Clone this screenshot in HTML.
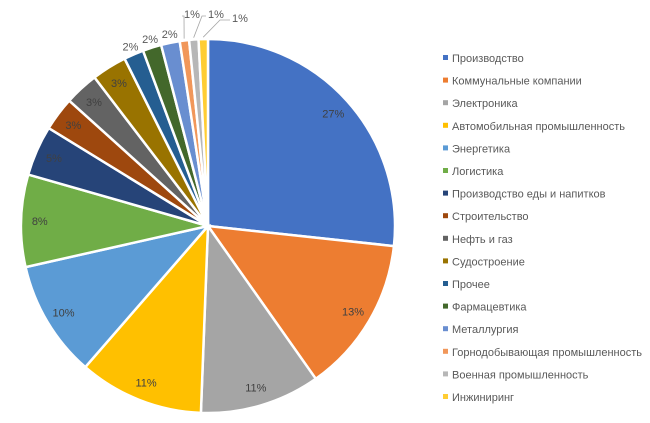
<!DOCTYPE html>
<html><head><meta charset="utf-8">
<style>
body{margin:0;background:#fff;width:650px;height:418px;overflow:hidden;font-family:"Liberation Sans",sans-serif;}
svg text{font-family:"Liberation Sans",sans-serif;}
</style></head>
<body>
<svg id="chart" width="650" height="418" xmlns="http://www.w3.org/2000/svg"></svg>
<script>
const categories=["Производство","Коммунальные компании","Электроника","Автомобильная промышленность","Энергетика","Логистика","Производство еды и напитков","Строительство","Нефть и газ","Судостроение","Прочее","Фармацевтика","Металлургия","Горнодобывающая промышленность","Военная промышленность","Инжиниринг"];
const values=[26.5,13.4,10.3,10.7,10,7.9,4.3,2.9,2.9,3,1.7,1.6,1.6,0.8,0.8,0.8];
const valueLabels=["27%","13%","11%","11%","10%","8%","5%","3%","3%","3%","2%","2%","2%","1%","1%","1%"];
const colors=["#4472C4","#ED7D31","#A5A5A5","#FFC000","#5B9BD5","#70AD47","#264478","#9E480E","#636363","#997300","#255E91","#43682B","#698ED0","#F1975A","#B7B7B7","#FFCD33"];
const NS="http://www.w3.org/2000/svg";
const svg=document.getElementById('chart');
const cx=208,cy=226,R=187;
const total=values.reduce((a,b)=>a+b,0);
function pt(a,r){return [cx+r*Math.sin(a),cy-r*Math.cos(a)];}
let acc=0;
values.forEach((v,i)=>{
  const a0=acc/total*2*Math.PI; acc+=v; const a1=acc/total*2*Math.PI;
  const p0=pt(a0,R),p1=pt(a1,R);
  const large=(a1-a0)>Math.PI?1:0;
  const path=document.createElementNS(NS,'path');
  path.setAttribute('d',`M${cx},${cy} L${p0[0]},${p0[1]} A${R},${R} 0 ${large} 1 ${p1[0]},${p1[1]} Z`);
  path.setAttribute('fill',colors[i]);path.setAttribute('stroke','#fff');path.setAttribute('stroke-width','2.5');
  
  
  svg.appendChild(path);
  const am=(a0+a1)/2;
  const t=document.createElementNS(NS,'text');
  let lp;
  if(i<10){lp=pt(am,R*0.9);}
  else if(i<13){lp=pt(am,R*1.07);lp=[lp[0]+2,lp[1]+4];}
  else{
    const k=i-13;
    lp=[186+k*24,14+(k===2?4:0)];
    const e=pt(am,R*1.01);
    const ln=document.createElementNS(NS,'polyline');
    ln.setAttribute('points',`${e[0]},${e[1]} ${lp[0]+(k===0?-2:k===1?-8:-14)},${lp[1]+2} ${lp[0]-4},${lp[1]+2}`);
    ln.setAttribute('fill','none');ln.setAttribute('stroke','#A6A6A6');ln.setAttribute('stroke-width','0.8');
    
    
    svg.appendChild(ln);
    lp=[lp[0]+6,lp[1]];
  }
  t.setAttribute('x',lp[0]);t.setAttribute('y',lp[1]+4);t.setAttribute('text-anchor','middle');
  t.setAttribute('font-size','11');t.setAttribute('fill',i<10?'#404040':'#595959');
  t.textContent=valueLabels[i];
  
  
  svg.appendChild(t);
});
categories.forEach((c,i)=>{
  const y=58+i*22.6;
  const r=document.createElementNS(NS,'rect');
  r.setAttribute('x',443);r.setAttribute('y',y-3);r.setAttribute('width',5);r.setAttribute('height',5);r.setAttribute('fill',colors[i]);
  
  
  svg.appendChild(r);
  const t=document.createElementNS(NS,'text');
  t.setAttribute('x',452);t.setAttribute('y',y+4);t.setAttribute('font-size','11');t.setAttribute('fill','#595959');
  t.textContent=c;
  
  
  svg.appendChild(t);
});
</script>
</body></html>
